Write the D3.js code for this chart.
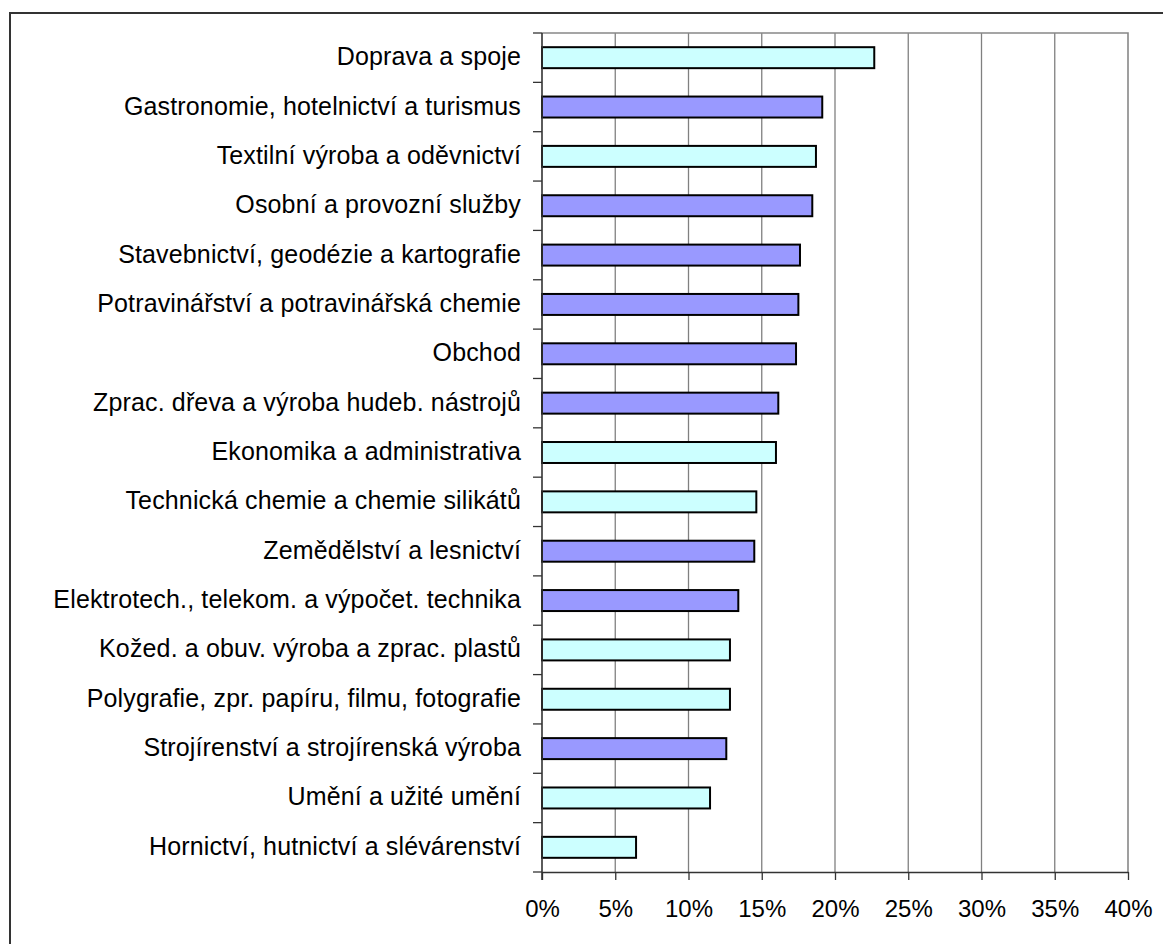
<!DOCTYPE html>
<html>
<head>
<meta charset="utf-8">
<script src="https://cdn.jsdelivr.net/npm/d3@7"></script>
<style>
  html, body { margin: 0; padding: 0; background: #fff; }
  svg { display: block; }
  text { font-family: "Liberation Sans", Arial, sans-serif; fill: #000; }
</style>
</head>
<body>
<svg id="chart" width="1163" height="944"></svg>
<script>
const categories = [
  "Doprava a spoje",
  "Gastronomie, hotelnictví a turismus",
  "Textilní výroba a oděvnictví",
  "Osobní a provozní služby",
  "Stavebnictví, geodézie a kartografie",
  "Potravinářství a potravinářská chemie",
  "Obchod",
  "Zprac. dřeva a výroba hudeb. nástrojů",
  "Ekonomika a administrativa",
  "Technická chemie a chemie silikátů",
  "Zemědělství a lesnictví",
  "Elektrotech., telekom. a výpočet. technika",
  "Kožed. a obuv. výroba a zprac. plastů",
  "Polygrafie, zpr. papíru, filmu, fotografie",
  "Strojírenství a strojírenská výroba",
  "Umění a užité umění",
  "Hornictví, hutnictví a slévárenství"
];
const values = [0.2268, 0.1913, 0.1870, 0.1845, 0.1761, 0.1750, 0.1734, 0.1613, 0.1597, 0.1463, 0.1449, 0.1340, 0.1283, 0.1283, 0.1258, 0.1147, 0.0642];
const groups = ["A","B","A","B","B","B","B","B","A","A","B","B","A","A","B","A","A"];
const groupColors = { A: "#CCFFFF", B: "#9999FF" };
const xTicks = [0, 0.05, 0.10, 0.15, 0.20, 0.25, 0.30, 0.35, 0.40];
const xTickLabels = ["0%", "5%", "10%", "15%", "20%", "25%", "30%", "35%", "40%"];

const svg = d3.select("#chart");
const pLeft = 542, pRight = 1128, pTop = 33, pBottom = 872;

// outer frame
svg.append("rect")
  .attr("x", 10).attr("y", 13)
  .attr("width", 1170).attr("height", 950)
  .attr("fill", "none").attr("stroke", "#333").attr("stroke-width", 2);

const x = d3.scaleLinear().domain([0, 0.4]).range([pLeft, pRight]);
const y = d3.scaleBand().domain(categories).range([pTop, pBottom])
  .paddingInner(0.575).paddingOuter(0.2875);

// gridlines
svg.append("g").selectAll("line")
  .data(xTicks.filter(t => t > 0 && t < 0.4))
  .join("line")
  .attr("x1", d => x(d)).attr("x2", d => x(d))
  .attr("y1", pTop).attr("y2", pBottom)
  .attr("stroke", "#808080").attr("stroke-width", 1.3);

// plot area border (top, right)
svg.append("path")
  .attr("d", `M${pLeft},${pTop}H${pRight}V${pBottom}`)
  .attr("fill", "none").attr("stroke", "#888").attr("stroke-width", 1.6);

// bars
svg.append("g").selectAll("rect")
  .data(categories)
  .join("rect")
  .attr("x", x(0))
  .attr("y", d => y(d))
  .attr("width", (d, i) => x(values[i]) - x(0))
  .attr("height", y.bandwidth())
  .attr("fill", (d, i) => groupColors[groups[i]])
  .attr("stroke", "#000").attr("stroke-width", 2);

// x axis
const xAxis = d3.axisBottom(x).tickValues(xTicks)
  .tickFormat((d, i) => xTickLabels[i]).tickSize(8).tickSizeOuter(0);
const gx = svg.append("g").attr("transform", `translate(0,${pBottom})`).call(xAxis);
gx.select(".domain").attr("stroke", "#333").attr("stroke-width", 1.6);
gx.selectAll(".tick line").attr("stroke", "#333").attr("stroke-width", 1.3);
gx.selectAll(".tick text")
  .attr("font-size", 24).attr("font-family", "Liberation Sans, Arial, sans-serif")
  .attr("fill", "#000").attr("dy", null).attr("y", 45);

// y axis line and ticks at category boundaries
svg.append("line")
  .attr("x1", pLeft).attr("x2", pLeft).attr("y1", pTop).attr("y2", pBottom + 8)
  .attr("stroke", "#333").attr("stroke-width", 1.6);
const step = y.step();
const boundaries = d3.range(categories.length + 1).map(i => pTop + i * step);
svg.append("g").selectAll("line")
  .data(boundaries)
  .join("line")
  .attr("x1", pLeft - 9).attr("x2", pLeft)
  .attr("y1", d => d).attr("y2", d => d)
  .attr("stroke", "#333").attr("stroke-width", 1.3);

// y labels
svg.append("g").selectAll("text")
  .data(categories)
  .join("text")
  .attr("x", pLeft - 21)
  .attr("y", d => y(d) + y.bandwidth() / 2 + 7.5)
  .attr("text-anchor", "end")
  .attr("font-size", 25)
  .attr("letter-spacing", 0.15)
  .text(d => d);
</script>
</body>
</html>
